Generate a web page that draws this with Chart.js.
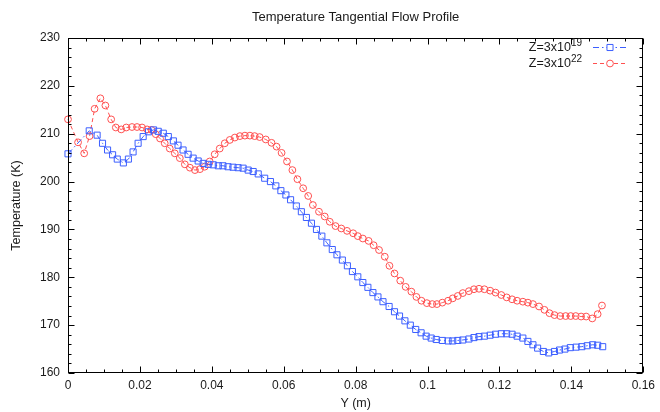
<!DOCTYPE html>
<html><head><meta charset="utf-8">
<script src="https://cdn.jsdelivr.net/npm/chart.js@4.4.1/dist/chart.umd.min.js"></script>
<style>html,body{margin:0;padding:0;background:#fff}canvas{display:block}</style>
</head><body>
<canvas id="c" width="660" height="412"></canvas>
<script>
const chartTitle = 'Temperature Tangential Flow Profile';
const xAxisTitle = 'Y (m)';
const yAxisTitle = 'Temperature (K)';
const xTickValues = [0, 0.02, 0.04, 0.06, 0.08, 0.1, 0.12, 0.14, 0.16];
const xTickLabels = ['0', '0.02', '0.04', '0.06', '0.08', '0.1', '0.12', '0.14', '0.16'];
const yTickValues = [160, 170, 180, 190, 200, 210, 220, 230];
const yTickLabels = ['160', '170', '180', '190', '200', '210', '220', '230'];
const seriesBase = ['Z=3x10', 'Z=3x10'];
const seriesExp = ['19', '22'];

const blueX = [0, 0.0059, 0.0081, 0.0096, 0.011, 0.0124, 0.0137, 0.0154, 0.0168, 0.0181, 0.0195, 0.0209, 0.0224, 0.0238, 0.0251, 0.0265, 0.0279, 0.0293, 0.0306, 0.032, 0.0334, 0.0348, 0.0362, 0.0376, 0.039, 0.0404, 0.0418, 0.0431, 0.0445, 0.0459, 0.0473, 0.0487, 0.0501, 0.0515, 0.0529, 0.0547, 0.0563, 0.0578, 0.0592, 0.0606, 0.0619, 0.0635, 0.0649, 0.0663, 0.0677, 0.0691, 0.0706, 0.072, 0.0735, 0.0748, 0.0763, 0.0777, 0.0791, 0.0806, 0.082, 0.0834, 0.0848, 0.0862, 0.0876, 0.0893, 0.0908, 0.0922, 0.0937, 0.0952, 0.0967, 0.0982, 0.0996, 0.101, 0.1024, 0.1041, 0.1057, 0.107, 0.1084, 0.1098, 0.1115, 0.1129, 0.1143, 0.1158, 0.1174, 0.1189, 0.1205, 0.122, 0.1235, 0.1249, 0.1265, 0.1279, 0.1293, 0.1306, 0.1322, 0.1337, 0.1353, 0.1367, 0.1382, 0.1397, 0.1413, 0.1429, 0.1444, 0.1459, 0.1473, 0.1487];
const blueY = [205.8, 210.6, 209.7, 208.0, 206.6, 205.6, 204.7, 203.9, 204.7, 206.2, 208.0, 209.4, 210.4, 210.8, 210.5, 210.1, 209.4, 208.5, 207.6, 206.6, 205.7, 204.9, 204.3, 203.8, 203.6, 203.5, 203.3, 203.3, 203.1, 203.0, 202.9, 202.8, 202.4, 202.1, 201.6, 200.7, 200.0, 199.1, 198.1, 197.2, 196.2, 194.9, 193.7, 192.5, 191.3, 190.0, 188.6, 187.2, 185.8, 184.7, 183.6, 182.4, 181.2, 180.1, 178.9, 177.9, 176.8, 175.9, 174.9, 173.9, 172.8, 171.9, 170.9, 170.0, 169.1, 168.4, 167.7, 167.3, 167.0, 166.8, 166.7, 166.7, 166.8, 166.9, 167.1, 167.4, 167.6, 167.7, 167.9, 168.1, 168.2, 168.2, 168.1, 167.7, 167.3, 166.6, 165.9, 165.2, 164.5, 164.2, 164.5, 164.8, 165.0, 165.3, 165.4, 165.5, 165.7, 165.9, 165.8, 165.5];

const redX = [0, 0.0028, 0.0045, 0.006, 0.0074, 0.009, 0.0104, 0.012, 0.0133, 0.0148, 0.0162, 0.0178, 0.0192, 0.0206, 0.022, 0.0232, 0.0244, 0.0256, 0.0269, 0.0283, 0.0297, 0.0311, 0.0325, 0.0339, 0.0353, 0.0367, 0.038, 0.0394, 0.0408, 0.0422, 0.0436, 0.045, 0.0464, 0.0478, 0.0492, 0.0506, 0.0519, 0.0533, 0.055, 0.0566, 0.058, 0.0594, 0.0609, 0.0624, 0.0638, 0.0654, 0.0668, 0.0681, 0.0698, 0.0714, 0.0728, 0.0744, 0.076, 0.0776, 0.0793, 0.0806, 0.082, 0.0836, 0.085, 0.0865, 0.0881, 0.0894, 0.0908, 0.0924, 0.0939, 0.0955, 0.0969, 0.0983, 0.0998, 0.1013, 0.1026, 0.1041, 0.1057, 0.107, 0.1084, 0.1098, 0.1115, 0.1129, 0.1143, 0.1158, 0.1174, 0.1189, 0.1205, 0.122, 0.1235, 0.1249, 0.1265, 0.1279, 0.1293, 0.131, 0.1325, 0.1339, 0.1353, 0.1369, 0.1384, 0.1398, 0.1412, 0.1427, 0.1441, 0.1458, 0.1473, 0.1485];
const redY = [213.0, 208.2, 205.9, 209.5, 215.2, 217.4, 215.9, 213.0, 211.3, 210.9, 211.3, 211.4, 211.4, 211.3, 210.9, 210.8, 209.9, 209.0, 208.0, 206.9, 205.9, 204.9, 203.6, 202.9, 202.4, 202.6, 203.1, 204.2, 205.7, 206.9, 208.0, 208.7, 209.2, 209.5, 209.6, 209.6, 209.5, 209.3, 208.8, 208.1, 207.3, 206.0, 204.2, 202.4, 200.5, 198.6, 197.0, 195.1, 193.7, 192.7, 191.6, 190.7, 190.2, 189.7, 189.2, 188.6, 188.1, 187.6, 186.7, 185.7, 184.3, 182.4, 180.8, 179.3, 178.0, 177.0, 175.9, 175.1, 174.6, 174.4, 174.4, 174.7, 175.1, 175.6, 176.1, 176.7, 177.1, 177.5, 177.6, 177.5, 177.2, 176.8, 176.3, 175.8, 175.4, 175.1, 174.9, 174.7, 174.4, 173.9, 173.2, 172.5, 172.1, 171.9, 171.9, 171.9, 171.9, 171.8, 171.8, 171.4, 172.3, 174.1];

const FONT = '"Liberation Sans", Arial, Helvetica, sans-serif';
const TXT = '#1a1a1a';
const BLUE = 'rgb(60,95,255)';
const RED = 'rgb(255,80,80)';
const seriesColors = [BLUE, RED];
const blueDash = [6, 3, 1.5, 3];
const redDash = [4, 3];
const seriesDash = [blueDash, redDash];

const toPts = (xs, ys) => xs.map((x, i) => ({x: x, y: ys[i]}));

const frameTicks = {
  id: 'frameTicks',
  afterDatasetsDraw(chart) {
    const {ctx, chartArea: a, scales: {x, y}} = chart;
    const L = Math.round(a.left) + 0.5, R = Math.round(a.right) - 0.5;
    const T = Math.round(a.top) + 0.5, B = Math.round(a.bottom) - 0.5;
    ctx.save();
    ctx.strokeStyle = '#000';
    ctx.lineWidth = 1;
    ctx.setLineDash([]);
    ctx.strokeRect(L, T, R - L, B - T);
    ctx.beginPath();
    for (let i = 0; i <= 32; i++) {
      const v = i * 0.005;
      const px = Math.round(x.getPixelForValue(v)) + 0.5;
      const len = (i % 4 === 0) ? 6 : 3;
      ctx.moveTo(px, B); ctx.lineTo(px, B - len);
      ctx.moveTo(px, T); ctx.lineTo(px, T + len);
    }
    for (let i = 0; i <= 35; i++) {
      const v = 160 + i * 2;
      const py = Math.round(y.getPixelForValue(v)) + 0.5;
      const len = (i % 5 === 0) ? 6 : 3;
      ctx.moveTo(L, py); ctx.lineTo(L + len, py);
      ctx.moveTo(R, py); ctx.lineTo(R - len, py);
    }
    ctx.stroke();
    ctx.restore();
  },
  afterDraw(chart) {
    const {ctx, chartArea: a} = chart;
    ctx.save();
    ctx.fillStyle = TXT;
    ctx.font = '13px ' + FONT;
    ctx.textAlign = 'center';
    ctx.textBaseline = 'middle';
    ctx.fillText(chartTitle, (a.left + a.right) / 2, 17.5);
    const rows = [47, 63];
    const textRight = 582, lineL = 593, lineR = 628, mid = 610;
    chart.data.datasets.forEach((ds, i) => {
      const yy = rows[i];
      ctx.fillStyle = TXT;
      ctx.textBaseline = 'middle';
      ctx.font = '10px ' + FONT;
      const expW = ctx.measureText(seriesExp[i]).width;
      ctx.font = '12.5px ' + FONT;
      const baseW = ctx.measureText(seriesBase[i]).width;
      const x0 = textRight - expW - baseW;
      ctx.textAlign = 'left';
      ctx.fillText(seriesBase[i], x0, yy + 1);
      ctx.font = '10px ' + FONT;
      ctx.fillText(seriesExp[i], x0 + baseW, yy - 4);
      ctx.strokeStyle = seriesColors[i];
      ctx.lineWidth = 1;
      ctx.setLineDash(seriesDash[i]);
      ctx.beginPath();
      ctx.moveTo(lineL, yy + 0.5); ctx.lineTo(lineR, yy + 0.5);
      ctx.stroke();
      ctx.setLineDash([]);
      ctx.strokeStyle = seriesColors[i];
      ctx.fillStyle = '#ffffff';
      Chart.helpers.drawPoint(ctx, {pointStyle: ds.pointStyle, radius: ds.pointRadius, borderWidth: 1, rotation: 0}, mid, yy + 0.5);
    });
    ctx.restore();
  }
};

new Chart(document.getElementById('c'), {
  type: 'scatter',
  data: {
    datasets: [
      {
        label: seriesBase[0] + '^' + seriesExp[0],
        data: toPts(blueX, blueY),
        showLine: true,
        clip: false,
        borderColor: BLUE,
        backgroundColor: 'rgba(0,0,0,0)',
        borderWidth: 1,
        borderDash: blueDash,
        pointStyle: 'rect',
        pointRadius: 4.3,
        pointBorderWidth: 1,
        pointBorderColor: BLUE,
        pointBackgroundColor: 'rgba(0,0,0,0)',
        tension: 0
      },
      {
        label: seriesBase[1] + '^' + seriesExp[1],
        data: toPts(redX, redY),
        showLine: true,
        clip: false,
        borderColor: RED,
        backgroundColor: 'rgba(0,0,0,0)',
        borderWidth: 1,
        borderDash: redDash,
        pointStyle: 'circle',
        pointRadius: 3.4,
        pointBorderWidth: 1,
        pointBorderColor: RED,
        pointBackgroundColor: 'rgba(0,0,0,0)',
        tension: 0
      }
    ]
  },
  options: {
    responsive: false,
    animation: false,
    devicePixelRatio: 1,
    layout: {padding: {left: 0, right: 16, top: 38, bottom: 0}},
    plugins: {
      legend: {display: false},
      tooltip: {enabled: false},
      title: {display: false}
    },
    scales: {
      x: {
        type: 'linear',
        min: 0, max: 0.16,
        grid: {display: false, drawTicks: false},
        border: {display: false},
        afterBuildTicks: (s) => { s.ticks = xTickValues.map(v => ({value: v})); },
        afterFit: (s) => { s.height = 39; },
        ticks: {
          autoSkip: false, maxRotation: 0, padding: 5,
          color: TXT, font: {family: FONT, size: 12},
          callback: (v, i) => xTickLabels[i]
        },
        title: {display: true, text: xAxisTitle, color: TXT, font: {family: FONT, size: 12.5}, padding: {top: 0, bottom: 1}}
      },
      y: {
        type: 'linear',
        min: 160, max: 230,
        grid: {display: false, drawTicks: false},
        border: {display: false},
        afterBuildTicks: (s) => { s.ticks = yTickValues.map(v => ({value: v})); },
        afterFit: (s) => { s.width = 68; },
        ticks: {
          autoSkip: false, padding: 8,
          color: TXT, font: {family: FONT, size: 12},
          callback: (v, i) => yTickLabels[i]
        },
        title: {display: true, text: yAxisTitle, color: TXT, font: {family: FONT, size: 12.5}, padding: {top: 9, bottom: 0}}
      }
    }
  },
  plugins: [frameTicks]
});
</script>
</body></html>
